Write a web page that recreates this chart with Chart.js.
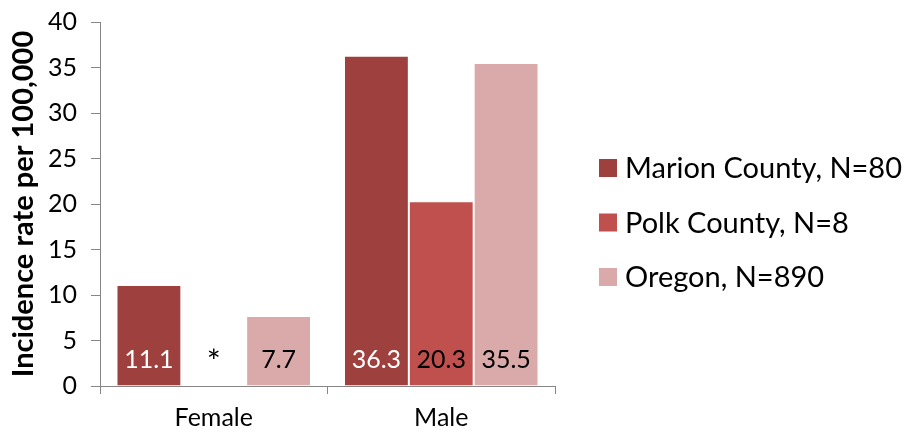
<!DOCTYPE html>
<html><head><meta charset="utf-8">
<script src="https://cdn.jsdelivr.net/npm/chart.js@4/dist/chart.umd.min.js"></script>
<style>html,body{margin:0;padding:0;background:#fff}#wrap{width:905px;height:432px}</style>
</head><body><div id="wrap"><canvas id="c" width="905" height="432"></canvas></div>
<script>
const categories = ["Female", "Male"];
const seriesNames = ["Marion County, N=80", "Polk County, N=8", "Oregon, N=890"];
const marion = [11.1, 36.3];
const polk = [null, 20.3];
const oregon = [7.7, 35.5];
const suppressedMark = "*";
const yTicks = [0, 5, 10, 15, 20, 25, 30, 35, 40];
const yTitle = "Incidence rate per 100,000";

const colors = ["#9E413E", "#C0504D", "#D9AAA9"];
const labelColors = ["#ffffff", "#000000", "#000000"];
const FONT = "Lato, 'Open Sans', sans-serif";

const dataLabels = {
  id: 'dataLabels',
  afterDatasetsDraw(chart) {
    const ctx = chart.ctx;
    const bottom = chart.chartArea.bottom;
    ctx.save();
    ctx.textAlign = "center";
    ctx.textBaseline = "middle";
    chart.data.datasets.forEach((ds, di) => {
      const meta = chart.getDatasetMeta(di);
      meta.data.forEach((el, i) => {
        const v = ds.data[i];
        if (v === null || v === undefined) {
          ctx.fillStyle = "#000000";
          ctx.font = "33px " + FONT;
          ctx.fillText(suppressedMark, el.x, bottom - 24);
        } else {
          ctx.fillStyle = labelColors[di];
          ctx.font = "25px " + FONT;
          ctx.fillText(v.toFixed(1), el.x, bottom - 26);
        }
      });
    });
    ctx.restore();
  }
};

const customLegend = {
  id: 'customLegend',
  afterDraw(chart) {
    const ctx = chart.ctx;
    ctx.save();
    ctx.font = "29px " + FONT;
    ctx.textBaseline = "middle";
    ctx.textAlign = "left";
    const x0 = 599, y0 = 168, gap = 54.5, box = 18;
    chart.data.datasets.forEach((ds, i) => {
      const y = y0 + i * gap;
      ctx.fillStyle = ds.backgroundColor;
      ctx.fillRect(x0, y - box / 2, box, box);
      ctx.fillStyle = "#000000";
      ctx.fillText(ds.label, x0 + 26, y + 1);
    });
    ctx.restore();
  }
};

new Chart(document.getElementById('c'), {
  type: 'bar',
  data: {
    labels: categories,
    datasets: [
      { label: seriesNames[0], data: marion, backgroundColor: colors[0] },
      { label: seriesNames[1], data: polk, backgroundColor: colors[1] },
      { label: seriesNames[2], data: oregon, backgroundColor: colors[2] }
    ].map(d => Object.assign(d, { borderColor: 'rgba(255,255,255,0.35)', borderWidth: 1, categoryPercentage: 0.855, barPercentage: 1.0 }))
  },
  options: {
    responsive: false,
    animation: false,
    devicePixelRatio: 1,
    layout: { padding: { top: 22, right: 350, left: 0, bottom: 0 } },
    plugins: { legend: { display: false }, tooltip: { enabled: false } },
    scales: {
      x: {
        grid: { display: true, drawOnChartArea: false, offset: true, color: '#868686', tickLength: 8, lineWidth: 1 },
        border: { color: '#868686' },
        ticks: { color: '#000', font: { family: FONT, size: 25 }, padding: 9 },
        afterFit(s) { s.height = 46; s.paddingLeft = 0; s.paddingRight = 0; }
      },
      y: {
        min: 0, max: 40,
        afterBuildTicks(s) { s.ticks = yTicks.map(v => ({ value: v })); },
        grid: { display: true, drawOnChartArea: false, color: '#868686', tickLength: 9 },
        border: { color: '#868686' },
        ticks: { color: '#000', font: { family: FONT, size: 25, lineHeight: 1.0 }, padding: 14 },
        title: { display: true, text: yTitle, color: '#000', font: { family: FONT, size: 29, weight: 'bold' }, padding: { top: 6, bottom: 0 } },
        afterFit(s) { s.width = 100; s.paddingTop = 0; s.paddingBottom = 0; }
      }
    }
  },
  plugins: [dataLabels, customLegend]
});
</script></body></html>
